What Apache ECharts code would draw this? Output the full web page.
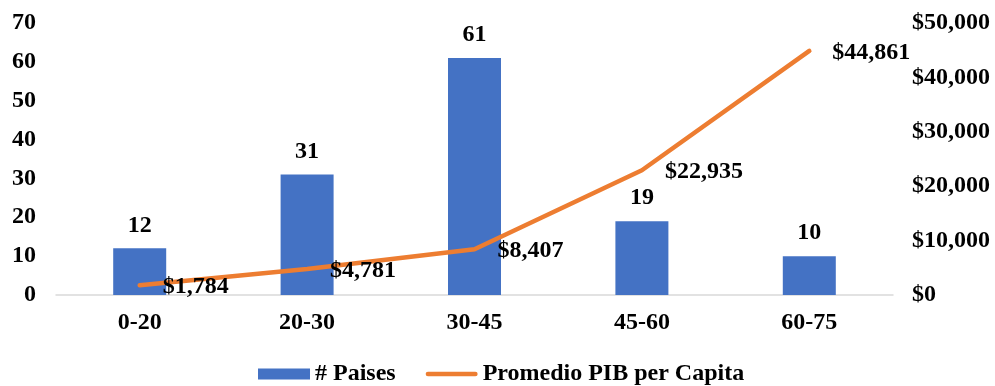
<!DOCTYPE html>
<html>
<head>
<meta charset="utf-8">
<script src="https://cdn.jsdelivr.net/npm/echarts@6/dist/echarts.min.js"></script>
<style>
  html, body { margin: 0; padding: 0; background: #fff; }
  #chart { width: 995px; height: 386px; }
</style>
</head>
<body>
<div id="chart"></div>
<script>
// Age ranges (years) used as categories
const categories = ['0-20', '20-30', '30-45', '45-60', '60-75'];
// Number of countries in each range
const countryCounts = [12, 31, 61, 19, 10];
// Average GDP per capita (USD) in each range
const gdpPerCapita = [1784, 4781, 8407, 22935, 44861];
// Tick values for both value axes
const leftTicks = { min: 0, max: 70, interval: 10 };
const rightTicks = { min: 0, max: 50000, interval: 10000 };

const FONT = '"Liberation Serif", "Times New Roman", serif';
const FS = 24;
const money = v => '$' + v.toLocaleString('en-US');

const chart = echarts.init(document.getElementById('chart'), null, { renderer: 'canvas' });
chart.setOption({
  animation: false,
  textStyle: { fontFamily: FONT, fontWeight: 'bold', color: '#000' },
  grid: { left: 56, right: 102, top: 23, bottom: 91 },
  legend: {
    top: 362,
    left: 258,
    padding: 0,
    itemGap: 30,
    itemWidth: 52,
    itemHeight: 11,
    textStyle: { fontFamily: FONT, fontWeight: 'bold', fontSize: FS, color: '#000' },
    data: [
      { name: '# Paises', icon: 'rect' },
      { name: 'Promedio PIB per Capita', icon: 'path://M2,0 L50,0 A2,2 0 0 1 50,4.6 L2,4.6 A2,2 0 0 1 2,0 Z' }
    ]
  },
  xAxis: {
    type: 'category',
    data: categories,
    axisLine: { lineStyle: { color: '#d9d9d9', width: 1.5 } },
    axisTick: { show: false },
    axisLabel: { fontFamily: FONT, fontWeight: 'bold', fontSize: FS, color: '#000', margin: 16 }
  },
  yAxis: [
    {
      type: 'value',
      min: leftTicks.min, max: leftTicks.max, interval: leftTicks.interval,
      splitLine: { show: false },
      axisLine: { show: false },
      axisTick: { show: false },
      axisLabel: { fontFamily: FONT, fontWeight: 'bold', fontSize: FS, color: '#000', margin: 20 }
    },
    {
      type: 'value',
      min: rightTicks.min, max: rightTicks.max, interval: rightTicks.interval,
      splitLine: { show: false },
      axisLine: { show: false },
      axisTick: { show: false },
      axisLabel: {
        fontFamily: FONT, fontWeight: 'bold', fontSize: FS, color: '#000', margin: 19,
        formatter: money
      }
    }
  ],
  series: [
    {
      name: '# Paises',
      type: 'bar',
      data: countryCounts,
      barWidth: 53,
      itemStyle: { color: '#4472C4' },
      label: {
        show: true, position: 'top', distance: 11,
        fontFamily: FONT, fontWeight: 'bold', fontSize: FS, color: '#000'
      }
    },
    {
      name: 'Promedio PIB per Capita',
      type: 'line',
      yAxisIndex: 1,
      data: gdpPerCapita,
      symbol: 'circle',
      symbolSize: 0.01,
      showSymbol: true,
      lineStyle: { color: '#ED7D31', width: 4.5, cap: 'round' },
      itemStyle: { color: '#ED7D31' },
      label: {
        show: true, position: 'right', distance: 23, offset: [0, 2],
        fontFamily: FONT, fontWeight: 'bold', fontSize: FS, color: '#000',
        formatter: p => money(p.value)
      }
    }
  ]
});
</script>
</body>
</html>
